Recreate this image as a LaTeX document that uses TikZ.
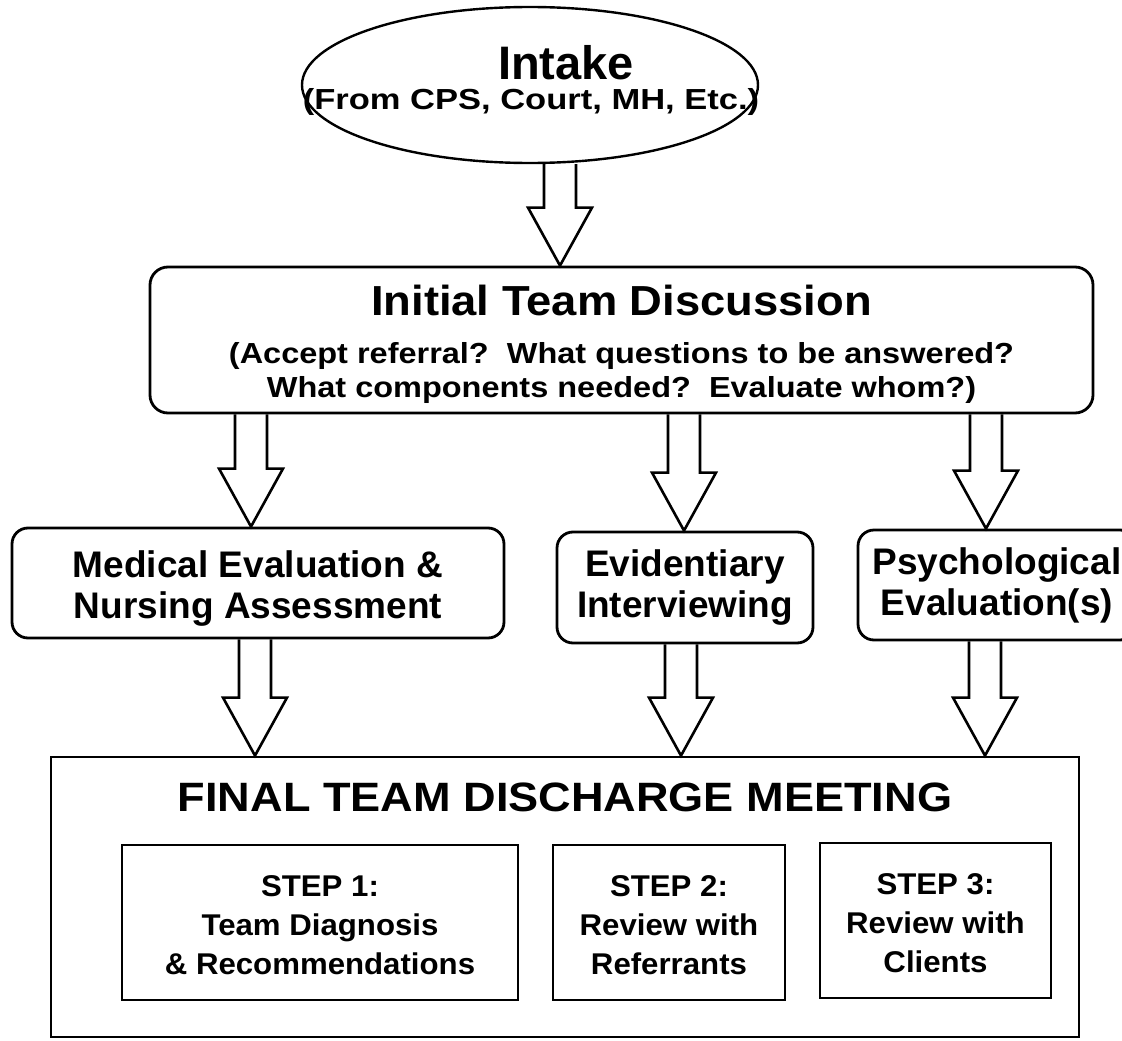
\documentclass[tikz,border=0pt]{standalone}
\usepackage{fontspec}
\setmainfont{Liberation Sans}
\newfontfamily\fN{Liberation Sans}
\newfontfamily\fP{Liberation Sans}[FakeStretch=1.19]
\newfontfamily\fQ{Liberation Sans}[FakeStretch=1.12]
\newfontfamily\fT{Liberation Sans}[FakeStretch=1.08]
\newfontfamily\fF{Liberation Sans}[FakeStretch=1.1]
\newfontfamily\fS{Liberation Sans}[FakeStretch=1.04]
\usetikzlibrary{calc,shapes.geometric}
\tikzset{
  rbox/.style={draw, line width=2.8pt, rounded corners=16pt, align=center, inner sep=0pt},
  sbox/.style={draw, line width=2.8pt, align=center, inner sep=0pt},
  blockarrow/.style={draw, line width=2.6pt, line join=miter},
  midfont/.style={font={\fN\bfseries\fontsize{37}{41}\selectfont}},
  stepfont/.style={font={\fS\bfseries\fontsize{30}{39}\selectfont}},
}
\newcommand{\barrow}[2]{%
  \draw[blockarrow] let \p1=(#1), \p2=(#2) in
    (\x1-16pt,\y1) -- (\x1-16pt,\y2+58pt) -- (\x1-32pt,\y2+58pt) -- (\x1,\y2)
    -- (\x1+32pt,\y2+58pt) -- (\x1+16pt,\y2+58pt) -- (\x1+16pt,\y1);}
\begin{document}
\begin{tikzpicture}[x=1pt,y=-1pt]
\useasboundingbox (0,0) rectangle (1122,1041);
\fill[white] (0,0) rectangle (1122,1041);
\clip (0,0) rectangle (1122,1041);

% Intake
\node[ellipse, draw, line width=2.4pt, minimum width=456pt, minimum height=156pt, inner sep=0pt] (intake) at (530,85) {};
\node[anchor=base, inner sep=0pt, font={\fN\bfseries\fontsize{47}{50}\selectfont}] (intakeT) at (566,80) {Intake};
\node[anchor=base, inner sep=0pt, font={\fP\bfseries\fontsize{29}{32}\selectfont}] (intakeS) at (531,109) {(From CPS, Court, MH, Etc.)};

% Initial team discussion
\node[rbox, rounded corners=18pt, minimum width=943pt, minimum height=146pt,
      font={\fQ\bfseries\fontsize{29}{34}\selectfont}] (init) at (621.5,340)
  {{\fT\fontsize{42}{46}\selectfont\rule{0pt}{39pt}Initial Team Discussion}\\[14pt]
   (Accept referral?~~What questions to be answered?\\
   What components needed?~~Evaluate whom?)};

% Middle boxes
\node[rbox, midfont, minimum width=492pt, minimum height=110pt] (med) at (258,583)
  {\rule{0pt}{37pt}Medical Evaluation \&\\Nursing Assessment};
\node[rbox, midfont, minimum width=256pt, minimum height=111pt] (evid) at (685,587.5)
  {Evidentiary\\Interviewing};
\node[rbox, midfont, minimum width=278pt, minimum height=110pt] (psych) at (997,585)
  {Psychological\\Evaluation(s)};

% Final meeting
\node[sbox, minimum width=1028pt, minimum height=280pt] (final) at (565,897) {};
\node[anchor=base, inner sep=0pt, font={\fF\bfseries\fontsize{41}{45}\selectfont}] (ftitle) at (565,811)
  {FINAL TEAM DISCHARGE MEETING};
\node[sbox, stepfont, minimum width=396pt, minimum height=155pt] (s1) at (320,922.5)
  {\rule{0pt}{27pt}STEP 1:\\Team Diagnosis\\\& Recommendations};
\node[sbox, stepfont, minimum width=232pt, minimum height=155pt] (s2) at (669,922.5)
  {\rule{0pt}{27pt}STEP 2:\\Review with\\Referrants};
\node[sbox, stepfont, minimum width=231pt, minimum height=155pt] (s3) at (935.5,920.5)
  {\rule{0pt}{27pt}STEP 3:\\Review with\\Clients};

% Arrow axes
\coordinate (a1) at (560,0);
\coordinate (a2) at (251,0);
\coordinate (a3) at (684,0);
\coordinate (a4) at (986,0);
\coordinate (a5) at (255,0);
\coordinate (a6) at (681,0);
\coordinate (a7) at (985,0);

\barrow{intake.south -| a1}{init.north -| a1}
\barrow{init.south -| a2}{med.north -| a2}
\barrow{init.south -| a3}{evid.north -| a3}
\barrow{init.south -| a4}{psych.north -| a4}
\barrow{med.south -| a5}{final.north -| a5}
\barrow{evid.south -| a6}{final.north -| a6}
\barrow{psych.south -| a7}{final.north -| a7}
\end{tikzpicture}
\end{document}
